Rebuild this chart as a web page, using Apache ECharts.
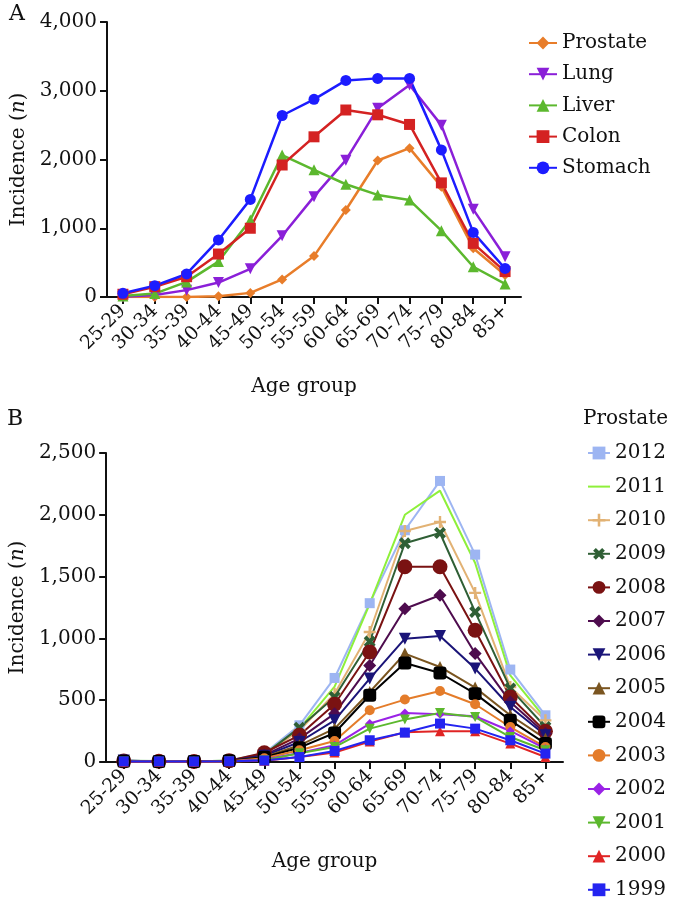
<!DOCTYPE html>
<html>
<head>
<meta charset="utf-8">
<script src="https://cdn.jsdelivr.net/npm/echarts@6/dist/echarts.min.js"></script>
<style>
  html, body { margin: 0; padding: 0; background: #fff; }
  #chart { width: 680px; height: 902px; }
</style>
</head>
<body>
<div id="chart"></div>
<script>
// age groups shared by both panels
const ageGroups = ["25-29", "30-34", "35-39", "40-44", "45-49", "50-54", "55-59", "60-64", "65-69", "70-74", "75-79", "80-84", "85+"]

// panel A: incidence by cancer site
const prostateA = [0, 0, 0, 10, 60, 255, 595, 1265, 1985, 2165, 1605, 710, 320]
const lungA = [5, 30, 100, 210, 410, 890, 1460, 1990, 2745, 3085, 2500, 1275, 585]
const liverA = [15, 50, 220, 515, 1120, 2065, 1850, 1640, 1485, 1410, 965, 440, 190]
const colonA = [40, 150, 295, 625, 1000, 1920, 2330, 2720, 2650, 2510, 1660, 780, 370]
const stomachA = [54, 165, 335, 830, 1420, 2640, 2875, 3150, 3180, 3180, 2140, 940, 415]
const ticksA = [0, 1000, 2000, 3000, 4000]

// panel B: prostate incidence by year
const years = ["2012", "2011", "2010", "2009", "2008", "2007", "2006", "2005", "2004", "2003", "2002", "2001", "2000", "1999"]
const p2012 = [10, 8, 5, 12, 70, 297, 680, 1285, 1875, 2274, 1678, 748, 378]
const p2011 = [10, 8, 5, 12, 65, 270, 610, 1280, 2000, 2195, 1610, 700, 350]
const p2010 = [8, 6, 5, 10, 62, 255, 553, 1052, 1869, 1942, 1368, 607, 337]
const p2009 = [8, 6, 5, 10, 60, 278, 526, 975, 1770, 1853, 1214, 594, 283]
const p2008 = [8, 6, 5, 10, 75, 216, 467, 890, 1580, 1580, 1066, 526, 248]
const p2007 = [6, 5, 4, 8, 55, 189, 391, 780, 1240, 1349, 877, 486, 230]
const p2006 = [12, 5, 4, 8, 50, 162, 337, 675, 998, 1020, 756, 445, 216]
const p2005 = [6, 5, 4, 8, 40, 135, 270, 566, 877, 769, 602, 378, 189]
const p2004 = [6, 5, 5, 10, 38, 116, 235, 540, 801, 720, 553, 337, 149]
const p2003 = [0, 4, 3, 6, 30, 95, 170, 418, 505, 574, 467, 283, 121]
const p2002 = [4, 4, 3, 5, 20, 73, 135, 311, 396, 386, 370, 251, 108]
const p2001 = [4, 3, 3, 5, 15, 70, 121, 270, 343, 396, 364, 202, 95]
const p2000 = [3, 3, 2, 4, 10, 40, 76, 165, 240, 248, 248, 149, 40]
const p1999 = [5, 5, 4, 6, 12, 40, 89, 176, 238, 311, 270, 176, 68]
const ticksB = [0, 500, 1000, 1500, 2000, 2500]

const font = "DejaVu Serif"
const plus = "path://M4,0H6V4H10V6H6V10H4V6H0V4H4Z"
const cross = "path://M3.5,0H6.5V3.5H10V6.5H6.5V10H3.5V6.5H0V3.5H3.5Z"

const fmt = v => v.toLocaleString("en-US")

const axisY = (gridIndex, ticks, nameGap) => ({
  type: "value",
  gridIndex,
  min: ticks[0],
  max: ticks[ticks.length - 1],
  interval: ticks[1] - ticks[0],
  name: "Incidence ({i|n})",
  nameLocation: "middle",
  nameRotate: 90,
  nameGap,
  nameTextStyle: {fontFamily: font, fontSize: 20, color: "#111", rich: {i: {fontFamily: font, fontSize: 20, fontStyle: "italic", color: "#111"}}},
  axisLine: {show: true, lineStyle: {color: "#111", width: 2}},
  axisTick: {show: true, length: 7, lineStyle: {color: "#111", width: 2}},
  axisLabel: {fontFamily: font, fontSize: 20, color: "#111", margin: 10, formatter: fmt},
  splitLine: {show: false}
})

const axisX = (gridIndex, nameGap) => ({
  type: "category",
  gridIndex,
  data: ageGroups,
  name: "Age group",
  nameLocation: "middle",
  nameGap,
  nameTextStyle: {fontFamily: font, fontSize: 20, color: "#111", padding: [0, 20, 0, 0]},
  axisLine: {show: true, onZero: false, lineStyle: {color: "#111", width: 2}},
  axisTick: {show: true, alignWithLabel: true, length: 7, lineStyle: {color: "#111", width: 2}},
  axisLabel: {fontFamily: font, fontSize: 19, color: "#111", rotate: 45, margin: 11, interval: 0}
})

const lineA = (name, data, color, symbol, size, rotate) => ({
  name, type: "line", xAxisIndex: 0, yAxisIndex: 0, data,
  symbol, symbolSize: size, symbolRotate: rotate || 0,
  lineStyle: {color, width: 2.5},
  itemStyle: {color},
  animation: false
})

const lineB = (name, data, color, symbol, size, rotate) => ({
  name, type: "line", xAxisIndex: 1, yAxisIndex: 1, data,
  symbol, symbolSize: size, symbolRotate: rotate || 0,
  showSymbol: symbol !== "none",
  lineStyle: {color, width: 2},
  itemStyle: {color},
  animation: false
})

// 2011 has no marker, so its legend entry is a bare line
const legendB = years.map(y => y === "2011" ? {name: y, itemStyle: {opacity: 0}} : y)

const option = {
  backgroundColor: "#fff",
  textStyle: {fontFamily: font},
  title: [
    {text: "A", left: 9, top: 3, padding: 0, textStyle: {fontFamily: font, fontSize: 22, fontWeight: "normal", color: "#111"}},
    {text: "B", left: 7, top: 408, padding: 0, textStyle: {fontFamily: font, fontSize: 22, fontWeight: "normal", color: "#111"}},
    {text: "Prostate", left: 583, top: 409, padding: 0, textStyle: {fontFamily: font, fontSize: 20, fontWeight: "normal", color: "#111"}}
  ],
  grid: [
    {left: 107, top: 22, width: 414, height: 275},
    {left: 98, top: 453, width: 465, height: 309}
  ],
  xAxis: [axisX(0, 80), axisX(1, 90)],
  yAxis: [axisY(0, ticksA, 78), axisY(1, ticksB, 75)],
  legend: [
    {
      data: ["Prostate", "Lung", "Liver", "Colon", "Stomach"],
      orient: "vertical", left: 528, top: 33, padding: 0,
      itemWidth: 28, itemHeight: 16, itemGap: 11.2,
      textStyle: {fontFamily: font, fontSize: 20, color: "#111"}
    },
    {
      data: legendB,
      orient: "vertical", left: 587, top: 443, padding: 0,
      itemWidth: 22, itemHeight: 16, itemGap: 13.6,
      textStyle: {fontFamily: font, fontSize: 20, color: "#111"}
    }
  ],
  series: [
    lineA("Prostate", prostateA, "#e87d2a", "diamond", 10),
    lineA("Lung", lungA, "#8a1fd8", "triangle", 11, 180),
    lineA("Liver", liverA, "#5cb82e", "triangle", 11),
    lineA("Colon", colonA, "#d42222", "rect", 11),
    lineA("Stomach", stomachA, "#1c1cff", "circle", 11),

    lineB("2012", p2012, "#9db5f2", "rect", 10),
    lineB("2011", p2011, "#8ef03a", "none", 0),
    lineB("2010", p2010, "#e2b274", plus, 12),
    lineB("2009", p2009, "#2f5f35", cross, 13, 45),
    lineB("2008", p2008, "#7a1212", "circle", 15),
    lineB("2007", p2007, "#4e0c4e", "diamond", 13),
    lineB("2006", p2006, "#1a1478", "triangle", 12, 180),
    lineB("2005", p2005, "#7a5520", "triangle", 12),
    lineB("2004", p2004, "#000000", "roundRect", 13),
    lineB("2003", p2003, "#e47c2a", "circle", 10),
    lineB("2002", p2002, "#9a22e6", "diamond", 9),
    lineB("2001", p2001, "#5cb82e", "triangle", 10, 180),
    lineB("2000", p2000, "#e02424", "triangle", 10),
    lineB("1999", p1999, "#2424f0", "rect", 10)
  ]
}

const myChart = echarts.init(document.getElementById("chart"), null, {renderer: "canvas"})
myChart.setOption(option)
</script>
</body>
</html>
